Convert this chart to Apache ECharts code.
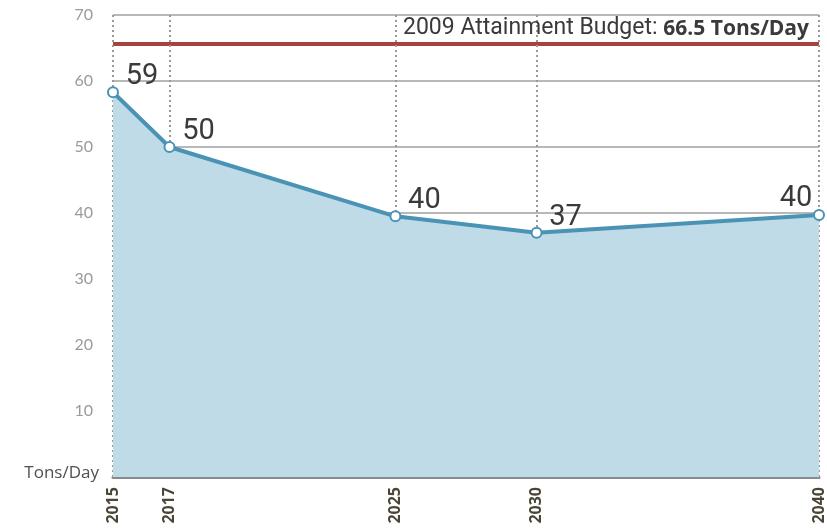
<!DOCTYPE HTML>
<html>
<head>
  <meta charset="utf-8" />
  <title>Tons/Day</title>
  <style>
    html, body { margin: 0; padding: 0; background: #fff; }
    #main { width: 827px; height: 531px; }
  </style>
</head>
<body>
  <div id="main"></div>
  <script src="https://cdn.jsdelivr.net/npm/echarts@6/dist/echarts.min.js"></script>
  <script type="text/javascript">
    // data
    var years = [2015, 2017, 2025, 2030, 2040];
    var tons = [58.3, 50, 39.5, 37, 39.7];
    var tonLabels = ['59', '50', '40', '37', '40'];
    var budget = 65.6;
    var yTicks = [0, 10, 20, 30, 40, 50, 60, 70];

    var chart = echarts.init(document.getElementById('main'));

    var points = [];
    for (var i = 0; i < years.length; i++) {
      var item = { value: [years[i], tons[i]], name: tonLabels[i] };
      if (i === years.length - 1) {
        item.label = { offset: [-23, 4] };
      }
      points.push(item);
    }

    var yearLines = [];
    for (var j = 0; j < years.length; j++) {
      yearLines.push({
        xAxis: years[j],
        lineStyle: { color: '#999999', width: 2, type: [2, 3] },
        label: { show: false }
      });
    }

    chart.setOption({
      animation: false,
      grid: { left: 113, right: 7, top: 15, bottom: 54 },
      xAxis: {
        type: 'value',
        min: 2015,
        max: 2040,
        axisLine: { show: true, lineStyle: { color: '#8a8a8a', width: 3 } },
        axisTick: { show: false },
        splitLine: { show: false },
        axisLabel: {
          customValues: years,
          rotate: 90,
          margin: 10,
          fontFamily: 'Open Sans',
          fontWeight: 'bold',
          fontSize: 16,
          color: '#4a4536',
          formatter: function (v) { return String(v); }
        }
      },
      yAxis: {
        type: 'value',
        min: 0,
        max: 70,
        interval: 10,
        axisLine: { show: false },
        axisTick: { show: false },
        splitLine: { lineStyle: { color: '#a0a0a0', width: 1.5 } },
        axisLabel: {
          margin: 20,
          fontFamily: 'Lato',
          fontSize: 16,
          color: '#9a9a9a',
          formatter: function (v) {
            if (v === 0) return '{u|Tons/Day}';
            return yTicks.indexOf(v) >= 0 ? String(v) : '';
          },
          rich: {
            u: { fontFamily: 'Open Sans', fontSize: 17, color: '#505050', padding: [0, -6, 8, 0] }
          }
        }
      },
      series: [
        {
          type: 'line',
          data: points,
          symbol: 'circle',
          symbolSize: 10,
          lineStyle: { color: '#4a93b5', width: 4 },
          itemStyle: { color: '#ffffff', borderColor: '#4a93b5', borderWidth: 2 },
          areaStyle: { color: '#bfdbe8', opacity: 1 },
          z: 3,
          label: {
            show: true,
            position: 'top',
            distance: 0,
            offset: [29, 5],
            formatter: '{b}',
            fontFamily: 'Roboto',
            fontSize: 29,
            color: '#3a3a3a'
          },
          markLine: {
            silent: true,
            symbol: 'none',
            z: 2,
            data: [
              {
                yAxis: budget,
                lineStyle: { color: '#a84240', width: 4, type: 'solid' },
                label: {
                  show: true,
                  position: 'insideEndTop',
                  distance: [10, 4],
                  formatter: '{n|2009 Attainment Budget: }{b|66.5 Tons/Day}',
                  rich: {
                    n: { fontFamily: 'Roboto', fontSize: 23, color: '#3a3a3a' },
                    b: { fontFamily: 'Open Sans', fontWeight: 'bold', fontSize: 21, color: '#3a3a3a' }
                  }
                }
              }
            ].concat(yearLines)
          }
        }
      ]
    });
  </script>
</body>
</html>
